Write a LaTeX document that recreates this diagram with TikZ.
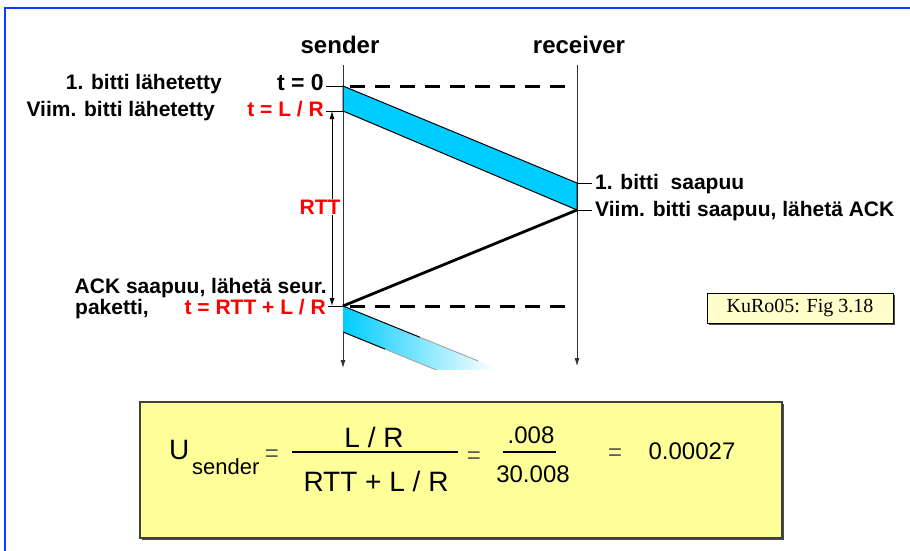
\documentclass[tikz,border=0pt]{standalone}
\usepackage{fontspec}
\setmainfont{Liberation Sans}
\newfontfamily\notefont{Liberation Serif}
\usetikzlibrary{arrows.meta, positioning, shadows}

\definecolor{pktcyan}{RGB}{0,204,255}
\definecolor{frameblue}{RGB}{10,60,255}
\definecolor{utilyellow}{RGB}{255,255,153}
\definecolor{notecream}{RGB}{255,255,204}

\tikzset{
    side/.style={font=\fontsize{24}{26}\selectfont\bfseries, inner sep=0pt},
    event/.style={font=\fontsize{21}{23}\selectfont\bfseries, inner sep=0pt},
    tlabel/.style={event, text=red},
    axis/.style={line width=0.8pt, black!80, ->},
    tick/.style={line width=0.8pt},
    dashline/.style={line width=3pt, dash pattern=on 15pt off 10pt},
    pkt/.style={draw, line width=1pt, fill=pktcyan},
    formula/.style={font=\fontsize{28}{30}\selectfont, inner sep=0pt},
    numeral/.style={font=\fontsize{24}{26}\selectfont, inner sep=0pt},
    eqsign/.style={numeral, text=black!65},
    boxshadow/.style={drop shadow={shadow xshift=2pt, shadow yshift=-2pt, fill=black!70, opacity=1}},
}

\begin{document}
\begin{tikzpicture}[x=1pt, y=-1pt, >={Latex[length=8pt,width=5pt]}]
    \useasboundingbox (0,0) rectangle (910,551);
    \draw[frameblue, line width=1.5pt] (5,551) -- (5,8) -- (910,8);

    % sender and receiver time lines
    \node[side, anchor=base] (snd) at (340,53) {sender};
    \node[side, anchor=base] (rcv) at (579,53) {receiver};
    \coordinate (sTop) at (343,65);
    \coordinate (sEnd) at (343,368);
    \coordinate (rTop) at (577,65);
    \coordinate (rEnd) at (577,366);
    \draw[axis] (sTop) -- (sEnd);
    \draw[axis] (rTop) -- (rEnd);

    \coordinate (s0) at (343,86);
    \coordinate (sLR) at (343,111);
    \coordinate (r1) at (577,183);
    \coordinate (r2) at (577,210);
    \coordinate (sAck) at (343,306);
    \coordinate (sNext) at (343,332);

    % first packet and the ACK
    \filldraw[pkt] (s0) -- (r1) -- (r2) -- (sLR) -- cycle;
    \draw[line width=2.8pt] (r2) -- (sAck);
    \draw[dashline, shorten <=7pt, shorten >=8pt] (s0) -- (s0 -| rTop);
    \draw[dashline, shorten <=7pt, shorten >=8pt] (sAck) -- (sAck -| rTop);

    % next packet, fading out
    \begin{scope}
        \clip (343,300) rectangle (520,369);
        \shade[left color=pktcyan, right color=white] (sAck) -- (495,367.9) -- (495,393.9) -- (sNext) -- cycle;
        \draw[line width=1pt] (sAck) -- (420,337.3);
        \draw[line width=1pt, black!35] (420,337.3) -- (478,360.9);
        \draw[line width=1pt] (sNext) -- (385,349.1);
        \draw[line width=1pt, black!35] (385,349.1) -- (440,371.5);
    \end{scope}

    % sender side labels
    \node[event, anchor=base east] (l0) at (222,89) {1. bitti lähetetty};
    \node[event, font=\fontsize{23}{25}\selectfont\bfseries, anchor=base east] (t0) at (324,90) {t = 0};
    \node[event, anchor=base east] (lLR) at (215,116) {Viim. bitti lähetetty};
    \node[tlabel, anchor=base east] (tLR) at (324,116) {t = L / R};
    \draw[tick, shorten <=2pt] (s0 -| t0.east) -- (s0);
    \draw[tick, shorten <=2pt] (sLR -| tLR.east) -- (sLR);

    \draw[<->, line width=0.8pt] ([xshift=-11pt]sLR) -- ([xshift=-11pt]sAck);
    \node[tlabel, fill=white, inner sep=1pt] (rtt) at (320,207) {RTT};

    \node[event, anchor=base east] (ackL) at (327,293) {ACK saapuu, lähetä seur.};
    \node[event, anchor=base west] (pak) at (75,314) {paketti,};
    \node[tlabel, anchor=base east] (tNext) at (326,314) {t = RTT + L / R};
    \draw[tick, shorten <=2pt] (sAck -| tNext.east) -- (sAck);

    % receiver side labels
    \node[event, anchor=base west] (a1) at (595,189) {1. bitti\ \ saapuu};
    \node[event, anchor=base west] (a2) at (595,216) {Viim. bitti saapuu, lähetä ACK};
    \draw[tick, shorten >=3pt] (r1) -- (r1 -| a1.west);
    \draw[tick, shorten >=3pt] (r2) -- (r2 -| a2.west);

    \node[draw, line width=0.8pt, fill=notecream, boxshadow, minimum width=186pt, minimum height=30pt,
          font=\notefont\fontsize{20}{22}\selectfont] (fig) at (800,308) {KuRo05: Fig 3.18};

    % utilisation formula
    \node[draw=black!75, line width=1.2pt, fill=utilyellow, boxshadow, minimum width=642pt, minimum height=136pt] (ubox) at (461,470) {};
    \node[formula, anchor=base west] (U) at (169,459) {U};
    \node[formula, font=\fontsize{22}{24}\selectfont, anchor=base west] (Usub) at (192,474) {sender};
    \node[eqsign] (eq1) at (272,456) {=};
    \node[formula, anchor=base] (num) at (374,447) {L / R};
    \draw[line width=2.7pt] (292,452) -- (458,452);
    \node[formula, anchor=base] (den) at (376,491) {RTT + L / R};
    \node[eqsign] (eq2) at (474,458) {=};
    \node[numeral, anchor=base] (num2) at (531,443) {.008};
    \draw[line width=2.7pt] (503,452) -- (556,452);
    \node[numeral, anchor=base] (den2) at (533,482) {30.008};
    \node[eqsign] (eq3) at (615,455) {=};
    \node[numeral, anchor=base] (res) at (692,459) {0.00027};
\end{tikzpicture}
\end{document}
